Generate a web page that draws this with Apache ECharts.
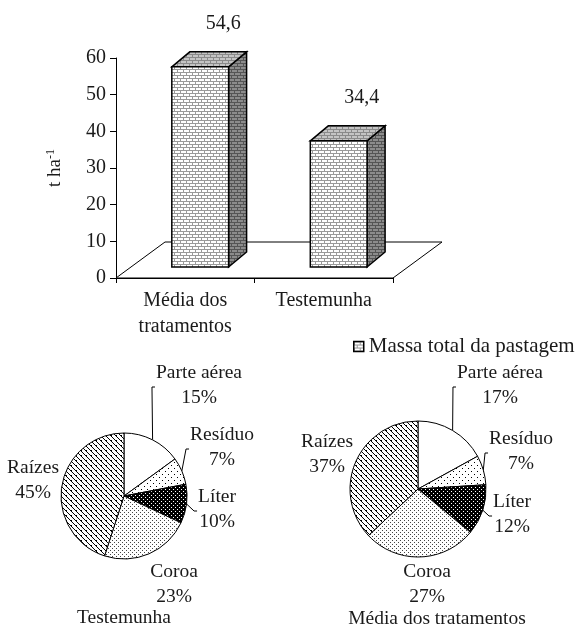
<!DOCTYPE html>
<html>
<head>
<meta charset="utf-8">
<title>Massa total da pastagem</title>
<script src="https://cdn.jsdelivr.net/npm/echarts@6/dist/echarts.min.js"></script>
<style>
	html, body { margin: 0; padding: 0; background: #fff; }
	#chart { width: 583px; height: 628px; }
</style>
</head>
<body>
<div id="chart"></div>
<script type="text/javascript">
	// dados do gráfico de barras
	var barCategories = ['Média dos\ntratamentos', 'Testemunha'];
	var barValues = [54.6, 34.4];
	var barSeriesName = 'Massa total da pastagem';
	// dados das pizzas
	var pieNames = ['Parte aérea', 'Resíduo', 'Líter', 'Coroa', 'Raízes'];
	var pieTestemunha = [15, 7, 10, 23, 45];
	var pieMedia = [17, 7, 12, 27, 37];

	var FONT = '"Liberation Serif", "Times New Roman", serif';
	var TXT = '#1a1a1a';

	// padrões de preenchimento (hachuras do Excel)
	function makePattern(w, h, bg, fg, rects) {
		var c = document.createElement('canvas');
		c.width = w; c.height = h;
		var ctx = c.getContext('2d');
		ctx.fillStyle = bg;
		ctx.fillRect(0, 0, w, h);
		ctx.fillStyle = fg;
		rects.forEach(function (r) { ctx.fillRect(r[0], r[1], r[2] || 1, r[3] || 1); });
		return { image: c, repeat: 'repeat' };
	}
	var brick = [[0, 0, 6, 1], [0, 1, 1, 2], [0, 3, 6, 1], [3, 4, 1, 2]];
	var brickFront = makePattern(6, 6, '#ffffff', '#9a9a9a', brick);
	var brickTop = makePattern(6, 6, '#c4c4c4', '#8a8a8a', brick);
	var brickSide = makePattern(6, 6, '#8c8c8c', '#555555', brick);

	var piePatterns = [
		'#ffffff',
		makePattern(6, 6, '#ffffff', '#000000', [[0, 0], [3, 3]]),
		makePattern(4, 4, '#000000', '#ffffff', [[1, 1], [3, 3]]),
		makePattern(4, 4, '#ffffff', '#444444', [[0, 0], [2, 2]]),
		makePattern(5, 5, '#ffffff', '#000000', [[0, 0], [1, 1], [2, 2], [3, 3], [4, 4], [1, 0]])
	];

	// posição dos rótulos das pizzas (centro do bloco de texto)
	var labelPosTest = [[199, 385], [222, 447], [217, 509], [174, 584], [33, 480]];
	var labelPosMedia = [[500, 385], [521, 451], [512, 514], [427, 584], [327, 454]];

	function pieSeries(values, center, radius, labelPos) {
		return {
			type: 'pie',
			center: center,
			radius: radius,
			startAngle: 90,
			clockwise: true,
			avoidLabelOverlap: false,
			silent: true,
			itemStyle: { borderColor: '#000', borderWidth: 1 },
			label: {
				show: true,
				position: 'outside',
				formatter: function (p) { return p.name + '\n' + p.value + '%'; },
				fontFamily: FONT,
				fontSize: 19.5,
				lineHeight: 25,
				color: TXT,
				align: 'center'
			},
			labelLine: { show: true, length: 6, length2: 4, lineStyle: { color: '#000', width: 1 } },
			labelLayout: function (params) {
				var pos = labelPos[params.dataIndex];
				var res = { x: pos[0], y: pos[1], align: 'center', verticalAlign: 'middle' };
				var pts = params.labelLinePoints;
				if (pts && pts.length) {
					var w = params.labelRect.width, h = params.labelRect.height;
					var rx = pos[0] - w / 2, ry = pos[1] - h / 2;
					var my = ry + h * 0.54;
					res.labelLinePoints = [pts[0], [rx - 4, my], [rx - 1, my]];
				}
				return res;
			},
			data: pieNames.map(function (n, i) {
				return {
					name: n,
					value: values[i],
					itemStyle: { color: piePatterns[i] },
					labelLine: { show: i < 3 }
				};
			})
		};
	}

	var myChart = echarts.init(document.getElementById('chart'), null, { renderer: 'canvas' });
	var option = {
		backgroundColor: '#fff',
		animation: false,
		legend: {
			data: [{ name: barSeriesName, icon: 'rect', itemStyle: { color: brickFront, borderColor: '#000', borderWidth: 1.5 } }],
			left: 348,
			top: 331,
			itemWidth: 10,
			itemHeight: 10,
			selectedMode: false,
			textStyle: { fontFamily: FONT, fontSize: 21, color: TXT }
		},
		grid: { left: 116, top: 58, width: 277, height: 220 },
		xAxis: {
			type: 'category',
			data: barCategories,
			boundaryGap: true,
			axisLine: { lineStyle: { color: '#000', width: 1 } },
			axisTick: { show: true, length: 5, lineStyle: { color: '#000' } },
			axisLabel: { fontFamily: FONT, fontSize: 20, lineHeight: 26, color: TXT, margin: 10, interval: 0 }
		},
		yAxis: {
			type: 'value',
			min: 0,
			max: 60,
			interval: 10,
			name: 't ha{sup|-1}',
			nameLocation: 'middle',
			nameRotate: 90,
			nameGap: 51,
			nameTextStyle: {
				fontFamily: FONT, fontSize: 19, color: TXT,
				rich: { sup: { fontFamily: FONT, fontSize: 12, color: TXT, verticalAlign: 'top', padding: [0, 0, 8, 0] } }
			},
			axisLine: { show: true, lineStyle: { color: '#000', width: 1 } },
			axisTick: { show: true, length: 6, lineStyle: { color: '#000' } },
			splitLine: { show: false },
			axisLabel: { fontFamily: FONT, fontSize: 20, color: TXT, margin: 10 }
		},
		graphic: [
			{ type: 'text', x: 124, y: 618, style: { text: 'Testemunha', font: '19.5px ' + FONT, fill: TXT, align: 'center', verticalAlign: 'middle' } },
			{ type: 'text', x: 437, y: 619, style: { text: 'Média dos tratamentos', font: '19.5px ' + FONT, fill: TXT, align: 'center', verticalAlign: 'middle' } }
		],
		series: [
			{
				// piso 3D
				type: 'custom',
				name: 'piso',
				silent: true,
				z: 1,
				data: [[0, 0]],
				renderItem: function (params, api) {
					var bw = api.size([1, 0])[0];
					var p = api.coord([0, 0]);
					var xl = p[0] - bw / 2, xr = xl + bw * barCategories.length, yf = p[1];
					return {
						type: 'polygon',
						shape: { points: [[xl, yf], [xr, yf], [xr + 49, yf - 36], [xl + 49, yf - 36]] },
						style: { fill: '#fff', stroke: '#000', lineWidth: 1 }
					};
				}
			},
			{
				type: 'custom',
				name: barSeriesName,
				z: 3,
				silent: true,
				itemStyle: { color: brickFront, borderColor: '#000', borderWidth: 1.5 },
				encode: { x: 0, y: 1 },
				data: barValues.map(function (v, i) { return [i, v]; }),
				renderItem: function (params, api) {
					var idx = api.value(0), v = api.value(1);
					var bw = api.size([1, 0])[0];
					var base = api.coord([idx, 0]);
					var top = api.coord([idx, v]);
					var cx = base[0] + bw * 0.108;
					var hw = bw * 0.205;
					var x0 = cx - hw, x1 = cx + hw;
					var yb = base[1] - 11, yt = top[1] - 11;
					var dx = 18, dy = 15;
					var edge = { stroke: '#000', lineWidth: 1.5 };
					return {
						type: 'group',
						children: [
							{ type: 'polygon', shape: { points: [[x1, yt], [x1 + dx, yt - dy], [x1 + dx, yb - dy], [x1, yb]] },
								style: Object.assign({ fill: brickSide }, edge) },
							{ type: 'polygon', shape: { points: [[x0, yt], [x0 + dx, yt - dy], [x1 + dx, yt - dy], [x1, yt]] },
								style: Object.assign({ fill: brickTop }, edge) },
							{ type: 'polygon', shape: { points: [[x0, yt], [x1, yt], [x1, yb], [x0, yb]] },
								style: Object.assign({ fill: brickFront }, edge) },
							{ type: 'text', x: cx + 23, y: yt - 43,
								style: { text: String(v).replace('.', ','), font: '20px ' + FONT, fill: TXT, align: 'center', verticalAlign: 'middle' } }
						]
					};
				}
			},
			pieSeries(pieTestemunha, [124, 496], 63, labelPosTest),
			pieSeries(pieMedia, [418, 489], 68, labelPosMedia)
		]
	};
	myChart.setOption(option);
</script>
</body>
</html>
